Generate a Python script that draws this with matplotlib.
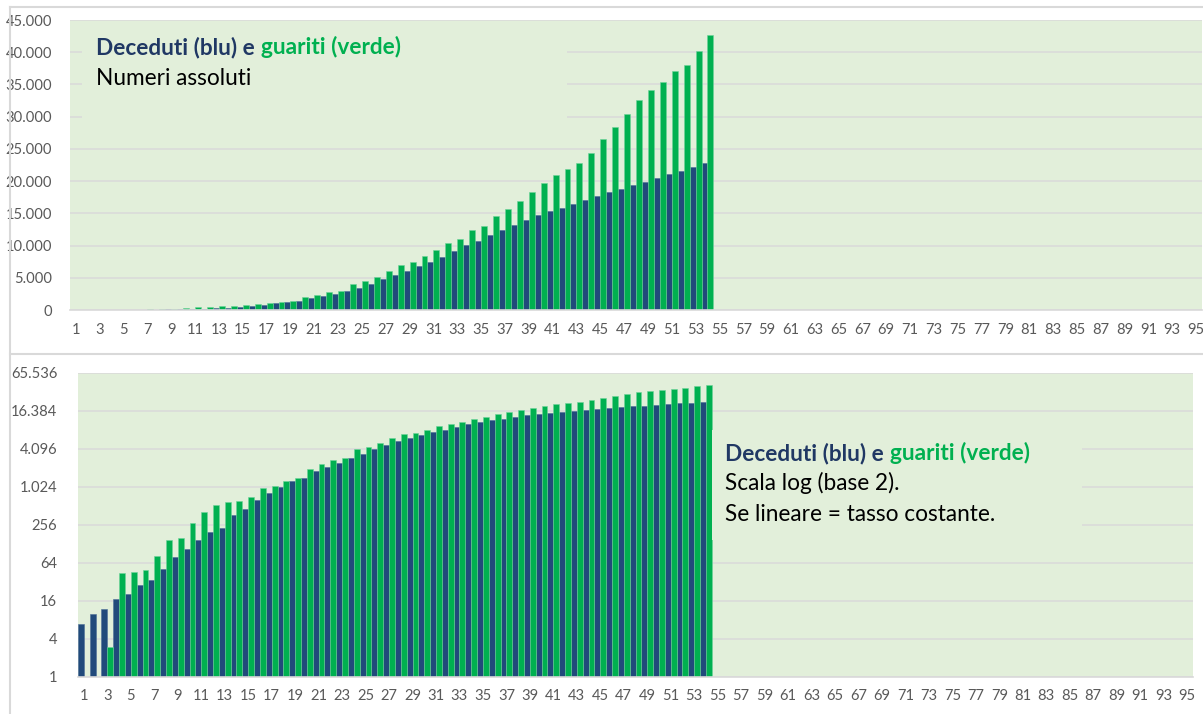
import matplotlib
matplotlib.use("Agg")
import matplotlib.pyplot as plt
import numpy as np
from matplotlib.patches import Rectangle
from matplotlib.lines import Line2D

# ── Data (Italy, day 1 = 24 Feb 2020) ─────────────────────────────────────────
N_CAT = 95
deceduti = [7, 10, 12, 17, 21, 29, 34, 52, 79, 107, 148, 197, 233, 366, 463, 631,
            827, 1016, 1266, 1441, 1809, 2158, 2503, 2978, 3405, 4032, 4825, 5476,
            6077, 6820, 7503, 8165, 9134, 10023, 10779, 11591, 12428, 13155, 13915,
            14681, 15362, 15887, 16523, 17127, 17669, 18279, 18849, 19468, 19899,
            20465, 21067, 21645, 22170, 22745]
guariti = [0, 1, 3, 45, 46, 50, 83, 149, 160, 276, 414, 523, 589, 622, 724, 1004,
           1045, 1258, 1439, 1966, 2335, 2749, 2941, 4025, 4440, 5129, 6072, 7024,
           7432, 8326, 9362, 10361, 10950, 12384, 13030, 14620, 15729, 16847, 18278,
           19758, 20996, 21815, 22837, 24392, 26491, 28470, 30455, 32534, 34211,
           35435, 37130, 38092, 40164, 42727]
lin_ticks = [0, 5000, 10000, 15000, 20000, 25000, 30000, 35000, 40000, 45000]
log_ticks = [1, 4, 16, 64, 256, 1024, 4096, 16384, 65536]

# ── Style ─────────────────────────────────────────────────────────────────────
BLUE = "#214A7B"
GREEN = "#00B050"
NAVY_TXT = "#203864"
BG = "#E2EFDA"
GRID = "#D9D9D9"
TICK = "#595959"
FS_TXT = 16.3
plt.rcParams["font.family"] = ["Lato", "DejaVu Sans"]

W, H = 1203, 714
fig = plt.figure(figsize=(W / 100, H / 100), dpi=100)


def px_rect(x0, y0, x1, y1):
    """pixel box (top-left origin) -> figure fraction [l, b, w, h]"""
    return [x0 / W, 1 - y1 / H, (x1 - x0) / W, (y1 - y0) / H]


def fmt_it(v):
    return f"{v:,.0f}".replace(",", ".")


x = np.arange(1, len(deceduti) + 1)
dec = np.array(deceduti, dtype=float)
gua = np.array(guariti, dtype=float)


def style_axes(ax, ypad):
    ax.set_facecolor(BG)
    for s in ("top", "left", "right"):
        ax.spines[s].set_visible(False)
    ax.spines["bottom"].set_color(GRID)
    ax.spines["bottom"].set_linewidth(1.2)
    ax.set_xlim(0.5, N_CAT + 0.5)
    ax.set_xticks(range(1, N_CAT + 1, 2))
    ax.set_xticklabels([str(i) for i in range(1, N_CAT + 1, 2)])
    ax.tick_params(axis="x", length=0, pad=9, labelsize=10.6, labelcolor=TICK)
    ax.tick_params(axis="y", length=0, pad=ypad, labelsize=10.6, labelcolor=TICK)
    ax.grid(axis="y", color=GRID, lw=1.1)
    ax.set_axisbelow(True)


# ── Top: absolute numbers ─────────────────────────────────────────────────────
ax1 = fig.add_axes(px_rect(70, 20, 1202, 310))
ax1.bar(x - 0.25, dec, width=0.5, color=BLUE, edgecolor="#4d6f98", lw=0.4)
ax1.bar(x + 0.25, gua, width=0.5, color=GREEN, edgecolor="#6fd39a", lw=0.4)
ax1.set_ylim(0, 45000)
ax1.set_yticks(lin_ticks)
ax1.set_yticklabels([fmt_it(v) for v in lin_ticks])
style_axes(ax1, 13)

# ── Bottom: log base 2 ────────────────────────────────────────────────────────
ax2 = fig.add_axes(px_rect(78, 373, 1193, 677))
ax2.set_yscale("log", base=2)
ax2.bar(x - 0.25, dec, width=0.5, color=BLUE, edgecolor="#4d6f98", lw=0.4)
gua_log = np.where(gua > 0, gua, np.nan)
ax2.bar(x + 0.25, gua_log, width=0.5, color=GREEN, edgecolor="#6fd39a", lw=0.4)
ax2.set_ylim(1, 65536)
ax2.set_yticks(log_ticks)
ax2.set_yticklabels([fmt_it(v) for v in log_ticks])
ax2.minorticks_off()
style_axes(ax2, 15)

# ── Text boxes (same fill as plot area, hide gridlines below) ─────────────────
fig.patches.append(Rectangle((82 / W, 1 - 135 / H), (567 - 82) / W, (135 - 21) / H,
                             transform=fig.transFigure, facecolor=BG, edgecolor="none",
                             zorder=2))
fig.patches.append(Rectangle((712 / W, 1 - 540 / H), (1082 - 712) / W, (540 - 430) / H,
                             transform=fig.transFigure, facecolor=BG, edgecolor="none",
                             zorder=2))

renderer = fig.canvas.get_renderer()


def title_pair(xp, yp):
    t1 = fig.text(xp / W, 1 - yp / H, "Deceduti (blu) e", color=NAVY_TXT,
                  fontsize=FS_TXT, fontweight="bold", va="baseline", zorder=5)
    x1 = t1.get_window_extent(renderer).x1
    fig.text((x1 + 6) / W, 1 - yp / H, "guariti (verde)", color=GREEN,
             fontsize=FS_TXT, fontweight="bold", va="baseline", zorder=5)


title_pair(96, 54)
fig.text(96 / W, 1 - 85 / H, "Numeri assoluti", fontsize=FS_TXT, color="black",
         va="baseline", zorder=5)

title_pair(725, 460)
fig.text(725 / W, 1 - 490 / H, "Scala log (base 2).", fontsize=FS_TXT, color="black",
         va="baseline", zorder=5)
fig.text(725 / W, 1 - 521 / H, "Se lineare = tasso costante.", fontsize=FS_TXT,
         color="black", va="baseline", zorder=5)

# ── Chart frames ──────────────────────────────────────────────────────────────
for xs, ys in (([10, W], [7, 7]), ([10, 10], [7, H]), ([10, W], [354, 354])):
    fig.add_artist(Line2D([v / W for v in xs], [1 - v / H for v in ys],
                          transform=fig.transFigure, color=GRID, lw=1.5))

fig.savefig("out.png", dpi=100)
